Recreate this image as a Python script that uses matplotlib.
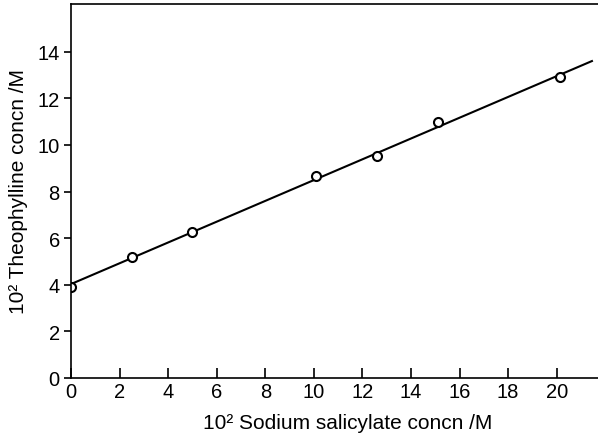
import matplotlib
matplotlib.use('Agg')
import matplotlib.pyplot as plt
import numpy as np

plt.rcParams['font.family'] = ['Liberation Sans', 'DejaVu Sans']

# Measured points
salicylate = [0, 2.5, 5, 10.1, 12.6, 15.1, 20.15]
theophylline = [3.92, 5.2, 6.25, 8.67, 9.51, 11.0, 12.93]

# Fitted line
fit_x = [0, 21.45]
fit_y = [4.03, 13.6]

x_ticks = [0, 2, 4, 6, 8, 10, 12, 14, 16, 18, 20]
y_ticks = [0, 2, 4, 6, 8, 10, 12, 14]

fig = plt.figure(figsize=(5.98, 4.39), dpi=100)
ax = fig.add_axes([0.1187, 0.1367, 0.8813, 0.852])

ax.plot(fit_x, fit_y, color='black', lw=1.5)
ax.plot(salicylate, theophylline, 'o', mfc='white', mec='black', ms=6.5, mew=1.5)

ax.set_xlim(0, 21.7)
ax.set_ylim(0, 16.05)
ax.set_xticks(x_ticks)
ax.set_yticks(y_ticks)

ax.spines['right'].set_visible(False)
for s in ['left', 'bottom', 'top']:
    ax.spines[s].set_linewidth(1.2)

ax.tick_params(axis='x', direction='in', length=7, width=1.2, labelsize=14.5, pad=3)
ax.tick_params(axis='y', direction='out', length=5, width=1.2, labelsize=14.5, pad=3)

ax.set_xlabel('10² Sodium salicylate concn /M', fontsize=15, labelpad=8)
ax.xaxis.set_label_coords(0.525, -0.093)
ax.set_ylabel('10² Theophylline concn /M', fontsize=15, labelpad=7)

fig.savefig('out.png', dpi=100)
